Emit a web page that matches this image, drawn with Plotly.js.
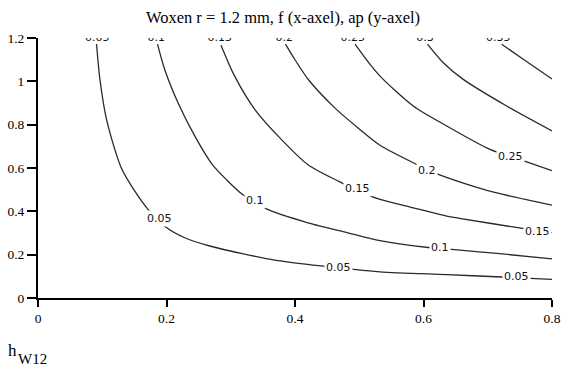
<!DOCTYPE html>
<html>
<head>
<meta charset="utf-8">
<script src="https://cdn.plot.ly/plotly-3.0.1.min.js"></script>
<style>html,body{margin:0;padding:0;background:#fff;}</style>
</head>
<body>
<div id="chart" style="width:566px;height:369px;"></div>
<script>
// Contour levels of h_W12: f (x-axel) and ap (y-axel)
const levels = ['0.05', '0.1', '0.15', '0.2', '0.25', '0.3', '0.35'];

const f005  = [0.0911, 0.0965, 0.1069, 0.1297, 0.1505, 0.1712, 0.1972, 0.2283, 0.2672, 0.3164, 0.3684, 0.4409, 0.5318, 0.6361, 0.7217, 0.8];
const ap005 = [1.172, 1.006, 0.821, 0.600, 0.494, 0.409, 0.331, 0.278, 0.240, 0.206, 0.175, 0.148, 0.121, 0.108, 0.097, 0.086];

const f010  = [0.186, 0.1972, 0.2179, 0.2439, 0.2708, 0.2937, 0.3195, 0.3556, 0.4202, 0.4825, 0.5323, 0.6075, 0.6439, 0.7139, 0.8];
const ap010 = [1.172, 1.055, 0.901, 0.748, 0.618, 0.545, 0.475, 0.411, 0.347, 0.301, 0.265, 0.233, 0.224, 0.206, 0.181];

const f015  = [0.2848, 0.3061, 0.3373, 0.3787, 0.4202, 0.4690, 0.5079, 0.5323, 0.5779, 0.6361, 0.6557, 0.7518, 0.8];
const ap015 = [1.167, 1.024, 0.871, 0.732, 0.615, 0.537, 0.482, 0.455, 0.421, 0.378, 0.368, 0.322, 0.302];

const f020  = [0.3852, 0.3995, 0.4213, 0.4607, 0.4981, 0.5318, 0.5883, 0.6221, 0.6817, 0.7139, 0.8];
const ap020 = [1.172, 1.102, 1.006, 0.881, 0.785, 0.706, 0.618, 0.572, 0.512, 0.485, 0.429];

const f025  = [0.4934, 0.5188, 0.5323, 0.5841, 0.6361, 0.7035, 0.7606, 0.8];
const ap025 = [1.172, 1.071, 1.024, 0.886, 0.794, 0.686, 0.628, 0.588];

const f030  = [0.6062, 0.6308, 0.6619, 0.7295, 0.8];
const ap030 = [1.172, 1.086, 1.009, 0.886, 0.771];

const f035  = [0.7217, 0.7553, 0.8];
const ap035 = [1.171, 1.102, 1.011];

// contour labels along the lines
const midLabelText = ['0.05', '0.05', '0.05', '0.1', '0.1', '0.15', '0.15', '0.2', '0.25'];
const midLabelF    = [0.189, 0.468, 0.745, 0.3385, 0.6257, 0.497, 0.7767, 0.6054, 0.7351];
const midLabelAp   = [0.366, 0.140, 0.097, 0.448, 0.235, 0.505, 0.308, 0.588, 0.655];

// contour labels at the top edge (half clipped)
const topLabelText = ['0.05', '0.1', '0.15', '0.2', '0.25', '0.3', '0.35'];
const topLabelF    = [0.0921, 0.1841, 0.2828, 0.3834, 0.4898, 0.6023, 0.7165];
const topLabelAp   = [1.198, 1.198, 1.198, 1.198, 1.198, 1.198, 1.198];

const xTicks = [0, 0.2, 0.4, 0.6, 0.8];
const xTickText = ['0', '0.2', '0.4', '0.6', '0.8'];
const yTicks = [0, 0.2, 0.4, 0.6, 0.8, 1.0, 1.2];
const yTickText = ['0', '0.2', '0.4', '0.6', '0.8', '1', '1.2'];

const lineSets = [[f005, ap005], [f010, ap010], [f015, ap015], [f020, ap020], [f025, ap025], [f030, ap030], [f035, ap035]];

const lineStyle = {color: '#2a2a2a', width: 1.3, shape: 'spline', smoothing: 0.8};
const labelFont = {family: 'DejaVu Sans', size: 11, color: '#111'};
const serif = '"Liberation Serif", "Times New Roman", Times, serif';

const traces = lineSets.map((s, i) => ({
  type: 'scatter', mode: 'lines', x: s[0], y: s[1], name: levels[i],
  line: lineStyle, hoverinfo: 'skip', showlegend: false
}));

traces.push({
  type: 'scatter', mode: 'text', x: topLabelF, y: topLabelAp, text: topLabelText,
  textposition: 'middle center', textfont: labelFont, cliponaxis: true,
  showlegend: false, hoverinfo: 'skip'
});

const annotations = midLabelText.map((t, i) => ({
  x: midLabelF[i], y: midLabelAp[i], xref: 'x', yref: 'y', text: t,
  showarrow: false, font: labelFont, bgcolor: '#ffffff', borderpad: 1,
  xanchor: 'center', yanchor: 'middle'
}));

annotations.push({
  xref: 'paper', yref: 'paper', x: -0.063, y: -0.200, xanchor: 'left', yanchor: 'middle',
  text: 'h', showarrow: false, font: {family: serif, size: 17, color: '#000'}
});
annotations.push({
  xref: 'paper', yref: 'paper', x: -0.042, y: -0.236, xanchor: 'left', yanchor: 'middle',
  text: 'W12', showarrow: false, font: {family: serif, size: 15, color: '#000'}
});

const axisCommon = {
  showgrid: false, zeroline: false, showline: true, linecolor: '#000', linewidth: 2,
  ticks: 'outside', tickcolor: '#000', tickwidth: 2,
  tickfont: {family: serif, size: 13.5, color: '#000'}, fixedrange: true
};

const layout = {
  width: 566, height: 369,
  margin: {l: 38, r: 14, t: 38, b: 71, pad: 0},
  paper_bgcolor: '#fff', plot_bgcolor: '#fff',
  font: {family: serif, color: '#000'},
  title: {
    text: 'Woxen r = 1.2 mm, f (x-axel), ap (y-axel)',
    font: {family: serif, size: 16.5, color: '#000'},
    x: 0.5, xref: 'container', xanchor: 'center',
    y: 1 - 17 / 369, yref: 'container', yanchor: 'middle'
  },
  xaxis: Object.assign({}, axisCommon, {range: [0, 0.8], tickvals: xTicks, ticktext: xTickText, ticklen: 7}),
  yaxis: Object.assign({}, axisCommon, {range: [0, 1.2], tickvals: yTicks, ticktext: yTickText, ticklen: 9}),
  annotations: annotations,
  showlegend: false
};

Plotly.newPlot('chart', traces, layout, {displayModeBar: false, staticPlot: true});
</script>
</body>
</html>
